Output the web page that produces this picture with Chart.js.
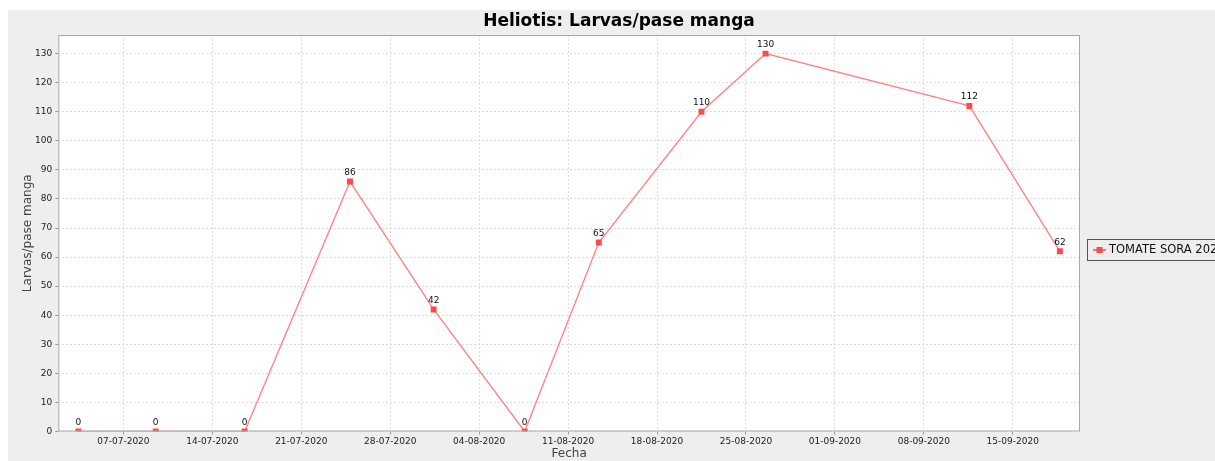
<!DOCTYPE html>
<html>
<head>
<meta charset="utf-8">
<script src="https://cdn.jsdelivr.net/npm/chart.js@4"></script>
<style>
  html, body { margin: 0; padding: 0; background: #fff; overflow: hidden; }
  canvas { display: block; }
</style>
</head>
<body>
<canvas id="grafico" width="1215" height="461"></canvas>
<script>
// Datos
const fechas = ['2020-07-03T11:00', '2020-07-09T13:00', '2020-07-16T13:00', '2020-07-24T20:00',
  '2020-07-31T10:00', '2020-08-07T14:00', '2020-08-13T10:00', '2020-08-21T12:00',
  '2020-08-26T13:00', '2020-09-11T14:00', '2020-09-18T17:00'];
const larvas = [0, 0, 0, 86, 42, 0, 65, 110, 130, 112, 62];
const serie = 'TOMATE SORA 2020';
const titulo = 'Heliotis: Larvas/pase manga';

// marcas del eje X (semanales) y del eje Y
const fechasTicks = ['2020-07-07', '2020-07-14', '2020-07-21', '2020-07-28', '2020-08-04',
  '2020-08-11', '2020-08-18', '2020-08-25', '2020-09-01', '2020-09-08', '2020-09-15'];
const valoresY = [0, 10, 20, 30, 40, 50, 60, 70, 80, 90, 100, 110, 120, 130];
const xMin = '2020-07-01T21:00';
const xMax = '2020-09-20T07:00';
const yMax = 136.4;

// pasar una fecha a días (UTC)
function aDias(s) {
  if (s.length === 10) s += 'T00:00';
  return Date.parse(s + 'Z') / 86400000;
}
function formatoFecha(d) {
  const dt = new Date(Math.round(d * 86400000));
  const dd = String(dt.getUTCDate()).padStart(2, '0');
  const mm = String(dt.getUTCMonth() + 1).padStart(2, '0');
  return dd + '-' + mm + '-' + dt.getUTCFullYear();
}

const rojo = '#ff4a4a';

const fondo = {
  id: 'fondo',
  beforeDraw(chart) {
    const { ctx, chartArea: a } = chart;
    ctx.save();
    ctx.fillStyle = '#ffffff';
    ctx.fillRect(0, 0, chart.width, chart.height);
    ctx.fillStyle = '#eeeeee';
    ctx.fillRect(8, 10, chart.width - 8, chart.height - 10);
    ctx.fillStyle = '#ffffff';
    ctx.fillRect(a.left, a.top, a.right - a.left, a.bottom - a.top);
    ctx.restore();
  },
  afterDatasetsDraw(chart) {
    // etiquetas de valor encima de cada punto
    const { ctx } = chart;
    const meta = chart.getDatasetMeta(0);
    ctx.save();
    ctx.font = '9px "DejaVu Sans"';
    ctx.fillStyle = '#111';
    ctx.textAlign = 'center';
    ctx.textBaseline = 'middle';
    meta.data.forEach((p, i) => {
      ctx.fillText(String(larvas[i]), p.x, p.y - 9);
    });
    ctx.restore();
  },
  afterDraw(chart) {
    const { ctx, chartArea: a } = chart;
    ctx.save();
    // borde del área de trazado
    ctx.strokeStyle = '#a8a8a8';
    ctx.lineWidth = 1;
    ctx.strokeRect(a.left + 0.5, a.top + 0.5, a.right - a.left - 1, a.bottom - a.top - 1);
    // título (centrado en el gráfico completo, que sigue más allá del borde derecho)
    ctx.font = 'bold 17px "DejaVu Sans"';
    ctx.fillStyle = '#000';
    ctx.textAlign = 'center';
    ctx.textBaseline = 'middle';
    ctx.fillText(titulo, 619, 21.5);
    // leyenda
    ctx.textAlign = 'left';
    ctx.strokeStyle = '#555';
    ctx.strokeRect(1087.5, 239.5, 200, 21);
    ctx.strokeStyle = rojo;
    ctx.lineWidth = 1.5;
    ctx.beginPath();
    ctx.moveTo(1093, 250);
    ctx.lineTo(1106, 250);
    ctx.stroke();
    ctx.fillStyle = rojo;
    ctx.fillRect(1096.5, 247, 6, 6);
    ctx.font = '11.5px "DejaVu Sans"';
    ctx.fillStyle = '#111';
    ctx.fillText(serie, 1109, 250.5);
    ctx.restore();
  }
};

const fuenteTicks = { family: 'DejaVu Sans', size: 9 };

new Chart(document.getElementById('grafico'), {
  type: 'line',
  data: {
    datasets: [{
      label: serie,
      data: fechas.map((f, i) => ({ x: aDias(f), y: larvas[i] })),
      borderColor: '#ff8585',
      borderWidth: 1.4,
      pointStyle: 'rect',
      pointRadius: 4.2,
      pointBorderWidth: 0,
      pointBackgroundColor: rojo,
      tension: 0
    }]
  },
  options: {
    responsive: false,
    animation: false,
    layout: { padding: { left: 8, top: 35, right: 135, bottom: 0 } },
    plugins: {
      legend: { display: false },
      tooltip: { enabled: false },
      title: { display: false }
    },
    scales: {
      x: {
        type: 'linear',
        min: aDias(xMin),
        max: aDias(xMax),
        afterBuildTicks: s => { s.ticks = fechasTicks.map(f => ({ value: aDias(f) })); },
        afterFit: s => { s.height = 29.5; },
        ticks: {
          autoSkip: false,
          maxRotation: 0,
          padding: 2,
          color: '#222',
          font: fuenteTicks,
          callback: v => formatoFecha(v)
        },
        grid: { color: '#dddddd', tickLength: 3, tickColor: '#999', tickBorderDash: [] },
        border: { display: false, dash: [2, 2] },
        title: {
          display: true,
          text: 'Fecha',
          color: '#444',
          font: { family: 'DejaVu Sans', size: 12 },
          padding: { top: 0, bottom: 0 }
        }
      },
      y: {
        min: 0,
        max: yMax,
        afterBuildTicks: s => { s.ticks = valoresY.map(v => ({ value: v })); },
        afterFit: s => { s.width = 50.3; },
        ticks: { padding: 3, color: '#222', font: fuenteTicks },
        grid: { color: '#dddddd', tickLength: 3, tickColor: '#999', tickBorderDash: [] },
        border: { display: false, dash: [2, 2] },
        title: {
          display: true,
          text: 'Larvas/pase manga',
          color: '#444',
          font: { family: 'DejaVu Sans', size: 12 },
          padding: { top: 13, bottom: 0 }
        }
      }
    }
  },
  plugins: [fondo]
});
</script>
</body>
</html>
